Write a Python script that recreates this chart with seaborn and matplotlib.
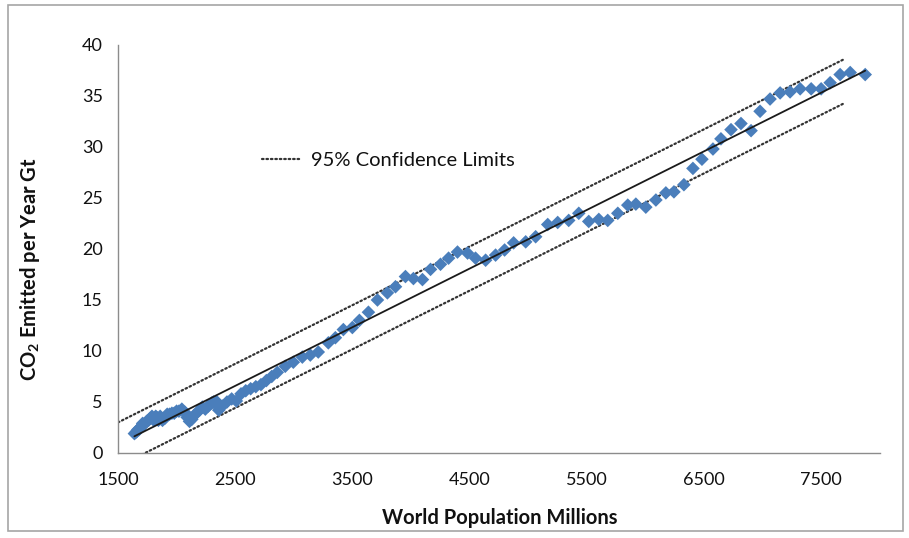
import numpy as np
import matplotlib
matplotlib.use("Agg")
import matplotlib.pyplot as plt
from matplotlib.patches import Rectangle
from matplotlib.lines import Line2D
import seaborn as sns

# World population (millions) and CO2 emitted per year (Gt), one pair per year
population = [
    1640, 1650, 1660, 1670, 1680, 1690, 1700, 1710, 1720, 1730,
    1745, 1760, 1775, 1790, 1800, 1808, 1815, 1822, 1830, 1845,
    1860, 1880, 1900, 1920, 1940, 1960, 1980, 2000, 2020, 2045,
    2070, 2090, 2110, 2130, 2150, 2170, 2195, 2220, 2245, 2270,
    2300, 2315, 2325, 2335, 2345, 2360, 2390, 2430, 2470, 2510,
    2550, 2590, 2632, 2676, 2720, 2766, 2812,
    2859, 2927, 2996, 3073, 3141, 3209, 3295, 3355, 3423, 3500,
    3560, 3637, 3714, 3799, 3868, 3953, 4021, 4098, 4167, 4252,
    4321, 4397, 4483, 4551, 4637, 4722, 4799, 4876, 4979, 5064,
    5167, 5252, 5346, 5432, 5517, 5603, 5679, 5765, 5850, 5919,
    6004, 6090, 6175, 6244, 6329, 6406, 6483, 6577, 6645, 6731,
    6816, 6902, 6979, 7064, 7150, 7235, 7321, 7415, 7500, 7577,
    7662, 7748, 7876,
]
co2 = [
    1.9, 2.0, 2.1, 2.3, 2.3, 2.5, 2.6, 2.9, 2.8, 2.9,
    3.1, 3.2, 3.4, 3.6, 3.3, 3.2, 3.4, 3.6, 3.5, 3.2,
    3.6, 3.2, 3.4, 3.8, 3.8, 3.9, 3.9, 4.1, 4.1, 4.3,
    4.0, 3.5, 3.1, 3.3, 3.7, 3.9, 4.2, 4.5, 4.3, 4.6,
    4.9, 5.0, 4.9, 5.0, 5.0, 4.2, 4.6, 5.0, 5.3, 5.1,
    5.8, 6.1, 6.3, 6.5, 6.7, 7.1, 7.5,
    7.9, 8.5, 8.9, 9.4, 9.6, 9.9, 10.8, 11.3, 12.1, 12.3,
    13.0, 13.8, 15.0, 15.7, 16.3, 17.3, 17.1, 17.0, 18.0, 18.5,
    19.1, 19.7, 19.6, 19.1, 18.9, 19.4, 19.9, 20.6, 20.7, 21.2,
    22.4, 22.6, 22.8, 23.5, 22.7, 22.9, 22.8, 23.5, 24.3, 24.4,
    24.1, 24.8, 25.5, 25.6, 26.3, 27.9, 28.8, 29.8, 30.8, 31.7,
    32.3, 31.6, 33.5, 34.7, 35.3, 35.4, 35.7, 35.7, 35.7, 36.3,
    37.1, 37.3, 37.1,
]

# Range over which the 95% limits are drawn
limit_pop = [1500, 7700]

x_ticks = [1500, 2500, 3500, 4500, 5500, 6500, 7500]
y_ticks = [0, 5, 10, 15, 20, 25, 30, 35, 40]

sns.set_style("white")
plt.rcParams["font.family"] = ["Lato", "DejaVu Sans"]
plt.rcParams["mathtext.fontset"] = "custom"
plt.rcParams["mathtext.rm"] = "Lato"
plt.rcParams["mathtext.bf"] = "Lato:bold"

fig = plt.figure(figsize=(9.09, 5.38), dpi=100)
ax = fig.add_axes([0.1298, 0.158, 0.838, 0.7584])

blue = "#4A7EBB"
sns.scatterplot(x=population, y=co2, marker="D", s=48, color=blue,
                edgecolor="none", linewidth=0, ax=ax, zorder=3)

# Least-squares trend line
sns.regplot(x=np.array(population), y=np.array(co2), scatter=False, ci=None,
            color="#1a1a1a", line_kws={"linewidth": 1.3, "zorder": 4}, ax=ax)

# 95% limits around the fitted line
slope, intercept = np.polyfit(population, co2, 1)
resid = np.array(co2) - (slope * np.array(population) + intercept)
half = 1.96 * resid.std(ddof=2)
lp = np.array(limit_pop, dtype=float)
dot_style = dict(color="#333333", linewidth=1.6, linestyle=(0, (0.7, 1.3)),
                 dash_capstyle="round", zorder=2)
ax.plot(lp, slope * lp + intercept + half, **dot_style)
ax.plot(lp, slope * lp + intercept - half, **dot_style)

ax.set_xlim(1500, 8000)
ax.set_ylim(0, 40)
ax.set_xticks(x_ticks)
ax.set_yticks(y_ticks)
ax.set_xticklabels([str(t) for t in x_ticks])
ax.set_yticklabels([str(t) for t in y_ticks])

for side in ("top", "right"):
    ax.spines[side].set_visible(False)
for side in ("left", "bottom"):
    ax.spines[side].set_color("#8c8c8c")
    ax.spines[side].set_linewidth(1.0)
ax.tick_params(axis="both", direction="out", length=5, width=1.0,
               color="#8c8c8c", labelsize=13, labelcolor="#111111", pad=6)
ax.tick_params(axis="x", pad=9)

ax.set_xlabel("World Population Millions", fontsize=14.5, fontweight="bold",
              color="#111111")
ax.set_ylabel(r"CO$_\mathbf{2}$ Emitted per Year Gt", fontsize=14.5,
              fontweight="bold", color="#111111")
ax.xaxis.set_label_coords(0.501, -0.135)
ax.yaxis.set_label_coords(-0.10, 0.45)

handle = Line2D([], [], **dot_style)
ax.legend([handle], ["95% Confidence Limits"], loc="center left",
          bbox_to_anchor=(0.165, 0.718), frameon=False, fontsize=14.5,
          handlelength=2.0, handletextpad=0.45, labelcolor="#111111")

# Chart-area border
fig.patches.append(Rectangle((0.0088, 0.013), 0.9846, 0.9777,
                             transform=fig.transFigure, fill=False,
                             edgecolor="#a6a6a6", linewidth=1.2))

fig.savefig("out.png", dpi=100)
